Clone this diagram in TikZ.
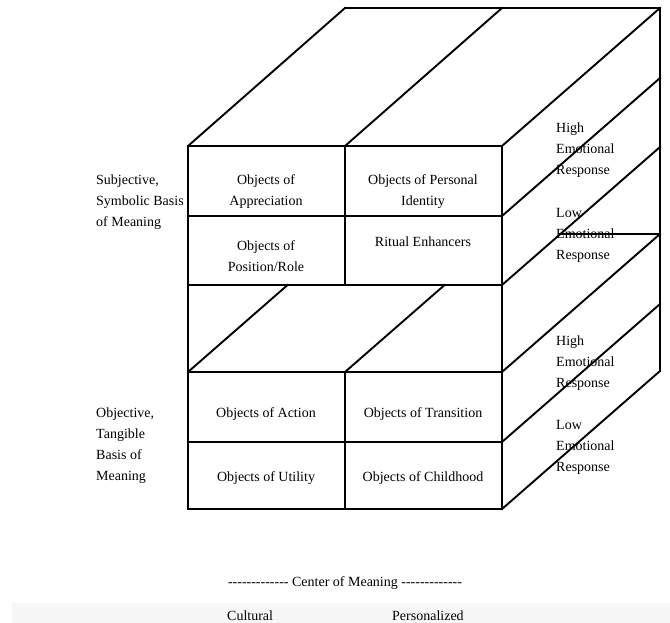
\documentclass[tikz,border=0pt]{standalone}
\usepackage{fontspec}
\setmainfont{Liberation Serif}
% a run of separate hyphens (no en-dash ligature)
\newcommand\hyph{\mbox{-}}
\newcommand\dashrun{\hyph\hyph\hyph\hyph\hyph\hyph\hyph\hyph\hyph\hyph\hyph\hyph\hyph}
\begin{document}
\begin{tikzpicture}[x=1pt,y=-1pt,
  edge/.style={line width=1.9pt, line join=miter, line cap=rect},
  cell/.style={font=\fontsize{14}{21}\selectfont, align=center, inner sep=0pt},
  tag/.style={font=\fontsize{14}{21}\selectfont, align=left, inner sep=0pt, anchor=west},
  foot/.style={font=\fontsize{14}{21}\selectfont, inner sep=0pt}]
\useasboundingbox (0,0) rectangle (670,623);
\fill[black!3] (12,603) rectangle (670,623);

% ---- upper block: top face ----
\draw[edge] (188,146) -- (502,146);
\draw[edge] (345,8) -- (660,8);
\draw[edge] (188,146) -- (345,8);
\draw[edge] (345,146) -- (502,8);
\draw[edge] (502,146) -- (660,8);

% ---- front face ----
\draw[edge] (188,146) -- (188,509);
\draw[edge] (502,146) -- (502,509);
\draw[edge] (345,146) -- (345,285);
\draw[edge] (345,372) -- (345,509);
\foreach \y in {216,285,372,442,509}
  \draw[edge] (188,\y) -- (502,\y);

% ---- top of the lower block, seen through the gap ----
\draw[edge] (188,372) -- (287.6,285);
\draw[edge] (345,372) -- (444.6,285);

% ---- right side ----
\draw[edge] (502,216) -- (660,78);
\draw[edge] (502,285) -- (660,147);
\draw[edge] (502,372) -- (660,234);
\draw[edge] (502,442) -- (660,304);
\draw[edge] (502,509) -- (660,371);
\draw[edge] (560.4,234) -- (660,234);
\draw[edge] (660,8) -- (660,371);

% ---- cell texts ----
\node[cell] (app) at (266,192) {Objects of\\Appreciation};
\node[cell] (pid) at (423,192) {Objects of Personal\\Identity};
\node[cell] (pos) at (266,256) {Objects of\\Position/Role};
\node[cell] (rit) at (423,242) {Ritual Enhancers};
\node[cell] (act) at (266,414) {Objects of Action};
\node[cell] (tra) at (423,414) {Objects of Transition};
\node[cell] (uti) at (266,478) {Objects of Utility};
\node[cell] (chi) at (423,478) {Objects of Childhood};

% ---- row labels ----
\node[tag] (subj) at (96,202) {Subjective,\\Symbolic Basis\\of Meaning};
\node[tag] (obj) at (96,446) {Objective,\\Tangible\\Basis of\\Meaning};

% ---- depth labels ----
\node[tag] (hi1) at (556,150) {High\\Emotional\\Response};
\node[tag] (lo1) at (556,235) {Low\\Emotional\\Response};
\node[tag] (hi2) at (556,363) {High\\Emotional\\Response};
\node[tag] (lo2) at (556,447) {Low\\Emotional\\Response};

% ---- column axis ----
\node[foot, anchor=base] (com) at (345,586) {\dashrun\ Center of Meaning \dashrun};
\node[foot, anchor=base west] (cul) at (227,620) {Cultural};
\node[foot, anchor=base west] (per) at (392,620) {Personalized};
\end{tikzpicture}
\end{document}
